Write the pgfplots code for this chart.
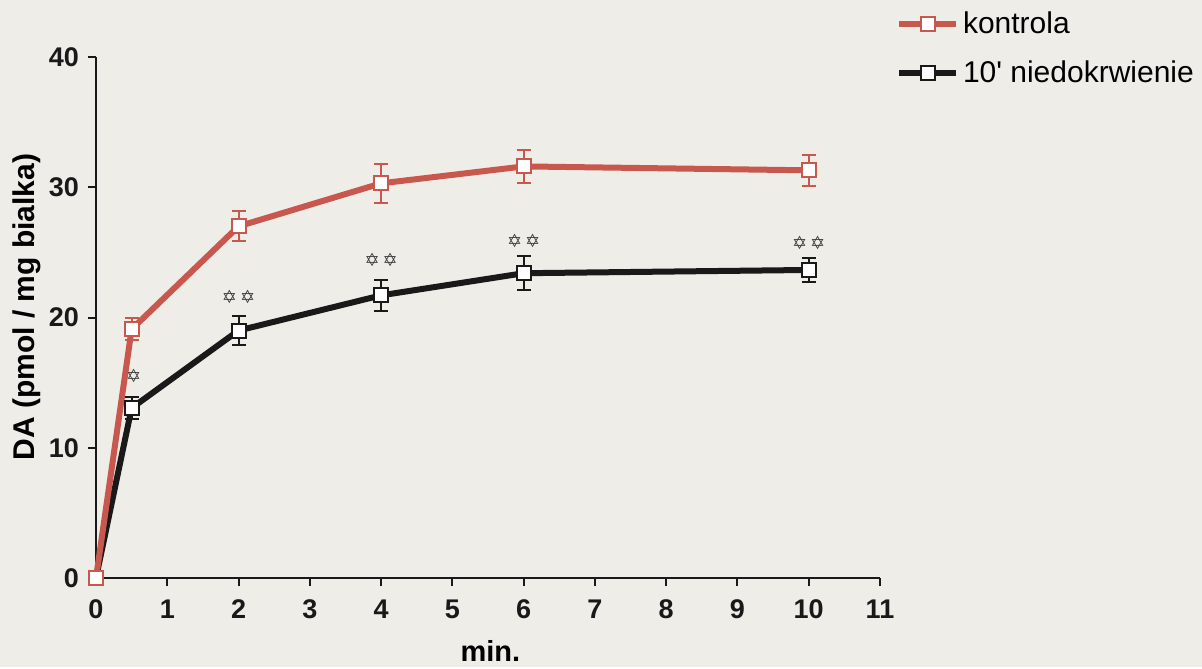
\documentclass[border=0pt]{standalone}
\usepackage{pgfplots}
\pgfplotsset{compat=1.18}
\usepackage{fontspec}
\setmainfont{Liberation Sans}
\newfontfamily\symfont{DejaVu Sans}
\definecolor{redline}{RGB}{200,88,78}
\definecolor{bg}{RGB}{238,237,232}
\definecolor{darkline}{RGB}{25,25,25}
\begin{document}
\begin{tikzpicture}
\fill[bg] (-48pt,-44.5pt) rectangle (553pt,289pt);
\begin{axis}[
  at={(0,0)}, anchor=south west,
  scale only axis, width=392pt, height=260.5pt,
  xmin=0, xmax=11, ymin=0, ymax=40,
  axis x line*=bottom, axis y line*=left,
  axis line style={line width=1pt, darkline, -},
  xtick={0,1,...,11}, ytick={0,10,20,30,40},
  tick align=outside, major tick length=4pt,
  tick style={line width=1pt, darkline},
  /pgf/number format/assume math mode=true,
  tick label style={font=\bfseries\fontsize{13.5}{13.5}\selectfont, text=darkline},
  xticklabel style={yshift=-3.5pt},
  yticklabel style={xshift=-1pt},
  xlabel={min.}, ylabel={DA (pmol / mg bialka)},
  xlabel style={font=\bfseries\fontsize{14.5}{15}\selectfont, at={(axis description cs:0.503,-0.14)}, anchor=center},
  ylabel style={font=\bfseries\fontsize{15}{15}\selectfont, at={(axis description cs:-0.088,0.52)}, anchor=center},
  clip=false,
  legend style={at={(axis cs:11.22,43.8)}, anchor=north west, draw=none, fill=none,
     font=\fontsize{15}{15}\selectfont, row sep=8pt, inner sep=0pt,
     nodes={inner sep=2pt}},
  legend cell align=left,
  legend image code/.code={\draw[mark repeat=2,mark phase=2] plot coordinates {(0cm,0cm)(0.5cm,0cm)(1cm,0cm)};},
]
\addplot+[forget plot, darkline, line width=3pt, mark=square*, mark size=3.5pt,
  mark options={fill=white, draw=darkline, line width=1pt, solid},
  error bars/.cd, y dir=both, y explicit,
  error bar style={line width=1pt, darkline},
  error mark options={rotate=90, mark size=3.5pt, line width=1pt, darkline}]
  table[x=x, y=y, y error=e] {
x y e
0 0 0
0.5 13.05 0.85
2 19.0 1.1
4 21.7 1.2
6 23.4 1.3
10 23.65 0.95
};
\addplot+[redline, line width=3pt, mark=square*, mark size=3.5pt,
  mark options={fill=white, draw=redline, line width=1pt, solid},
  error bars/.cd, y dir=both, y explicit,
  error bar style={line width=1pt, redline},
  error mark options={rotate=90, mark size=3.5pt, line width=1pt, redline}]
  table[x=x, y=y, y error=e] {
x y e
0 0 0
0.5 19.1 0.85
2 27.0 1.15
4 30.3 1.5
6 31.6 1.25
10 31.3 1.2
};
\addlegendentry{kontrola}
\addlegendimage{darkline, line width=3pt, mark=square*, mark size=3.5pt,
  mark options={fill=white, draw=darkline, line width=1pt, solid}}
\addlegendentry{10\textquotesingle{} niedokrwienie}
\tikzset{star/.style={font=\symfont\fontsize{9}{9}\selectfont, text=darkline!85, inner sep=0pt}}
\node[star] at (axis cs:0.53,15.5) {✡};
\node[star] at (axis cs:2,21.6) {✡\,✡};
\node[star] at (axis cs:4,24.4) {✡\,✡};
\node[star] at (axis cs:6,25.9) {✡\,✡};
\node[star] at (axis cs:10,25.7) {✡\,✡};
\end{axis}
\path (-48pt,-44.5pt) rectangle (553pt,289pt);
\end{tikzpicture}
\end{document}
